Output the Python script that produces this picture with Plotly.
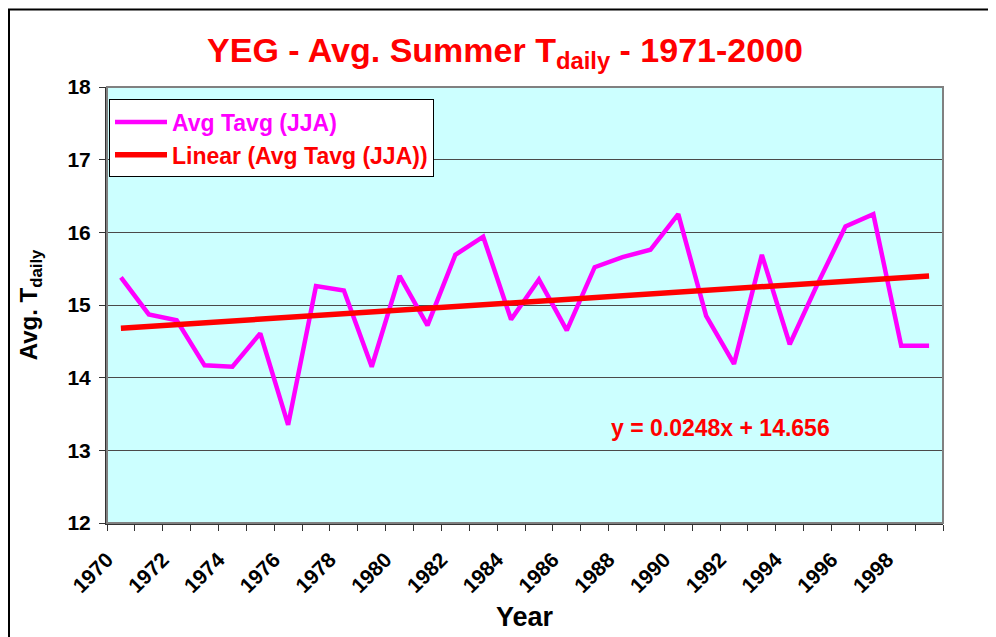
import plotly.graph_objects as go

# ---- data ----
years = list(range(1970, 2000))
avg_tavg = [15.38, 14.87, 14.79, 14.17, 14.15, 14.61, 13.35, 15.26, 15.20, 14.15,
            15.40, 14.72, 15.69, 15.94, 14.80, 15.35, 14.65, 15.52, 15.66, 15.76,
            16.25, 14.85, 14.19, 15.69, 14.46, 15.29, 16.08, 16.25, 14.44, 14.44]
tick_labels = [str(y) for y in range(1970, 2000, 2)]
trend_slope = 0.0248
trend_intercept = 14.656
y_ticks = [12, 13, 14, 15, 16, 17, 18]

idx = list(range(1, len(years) + 1))
trend_x = [idx[0], idx[-1]]
trend_y = [trend_slope * x + trend_intercept for x in trend_x]

FONT = "Liberation Sans, Arial, sans-serif"

# page is rendered with an 8px body margin
OFF = 8
PL, PR, PT, PB = 107, 943, 86.5, 523   # plot area in page pixels
W, H = 996 - OFF, 637 - OFF
pw = PR - PL
ph = PB - PT
L = PL - OFF
T = PT - OFF
R = W - L - pw
B = H - T - ph


def px_x(x):
    return (x - PL) / pw


def px_y(y):
    return (PB - y) / ph


fig = go.Figure()
fig.add_trace(go.Scatter(
    x=idx, y=avg_tavg, mode="lines",
    line=dict(color="#FF00FF", width=4.5),
    name='<span style="color:#FF00FF">Avg Tavg (JJA)</span>',
    legendgroup="a",
))
fig.add_trace(go.Scatter(
    x=trend_x, y=trend_y, mode="lines",
    line=dict(color="#FF0000", width=5.5),
    name='<span style="color:#FF0000">Linear (Avg Tavg (JJA))</span>',
    legendgroup="b",
))

fig.update_layout(
    width=W, height=H,
    margin=dict(l=L, r=R, t=T, b=B),
    paper_bgcolor="white",
    plot_bgcolor="#CCFFFF",
    font=dict(family=FONT, color="black"),
    showlegend=True,
    legend=dict(
        x=px_x(109), y=px_y(99), xanchor="left", yanchor="top",
        bgcolor="white", bordercolor="black", borderwidth=1,
        font=dict(family=FONT, size=23, color="black", weight="bold"),
        tracegroupgap=0,
        itemwidth=52,
    ),
    title=dict(
        text="YEG - Avg. Summer T<sub>daily</sub> - 1971-2000",
        x=(505 - OFF) / W, xref="container", xanchor="center",
        y=1 - (50 - OFF) / H, yref="container", yanchor="middle",
        font=dict(family=FONT, size=34, color="#FF0000", weight="bold"),
    ),
    xaxis=dict(
        range=[0.5, 30.5],
        tickmode="array",
        tickvals=[idx[i] - 0.5 for i in range(0, 30, 2)],
        ticktext=tick_labels,
        tickangle=-45,
        ticks="",
        ticklabelstandoff=14,
        tickfont=dict(family=FONT, size=21, color="black", weight="bold"),
        showgrid=False,
        zeroline=False,
        showline=True, linecolor="#333333", linewidth=2,
        minor=dict(ticks="outside", tick0=0.5, dtick=1, ticklen=6,
                   tickcolor="#333333", tickwidth=1, showgrid=False),
        automargin=False,
        fixedrange=True,
    ),
    yaxis=dict(
        range=[12, 18],
        tickmode="array",
        tickvals=y_ticks,
        ticks="outside", ticklen=6, tickcolor="#333333",
        ticklabelstandoff=4,
        tickfont=dict(family=FONT, size=21, color="black", weight="bold"),
        showgrid=True, gridcolor="#4a4a4a", gridwidth=1,
        zeroline=False,
        showline=True, linecolor="#333333", linewidth=2,
        automargin=False,
        fixedrange=True,
    ),
    shapes=[
        # plot area border (gray top/right)
        dict(type="rect", xref="paper", yref="paper", x0=0, y0=0, x1=1, y1=1,
             line=dict(color="#808080", width=2), layer="above"),
        # outer chart border
        dict(type="rect", xref="paper", yref="paper",
             x0=px_x(OFF + 1), y0=px_y(700), x1=px_x(1100), y1=px_y(OFF + 1),
             line=dict(color="black", width=2), layer="below"),
    ],
    annotations=[
        dict(text="Avg. T<sub>daily</sub>", xref="paper", yref="paper",
             x=px_x(30), y=px_y(305), textangle=-90, showarrow=False,
             xanchor="center", yanchor="middle",
             font=dict(family=FONT, size=24, color="black", weight="bold")),
        dict(text="Year", xref="paper", yref="paper",
             x=px_x(525), y=px_y(617), showarrow=False,
             xanchor="center", yanchor="middle",
             font=dict(family=FONT, size=27, color="black", weight="bold")),
        dict(text=f"y = {trend_slope}x + {trend_intercept}", xref="paper", yref="paper",
             x=px_x(720), y=px_y(428), showarrow=False,
             xanchor="center", yanchor="middle",
             font=dict(family=FONT, size=23, color="#FF0000", weight="bold")),
    ],
)

fig.write_html("out.html")
